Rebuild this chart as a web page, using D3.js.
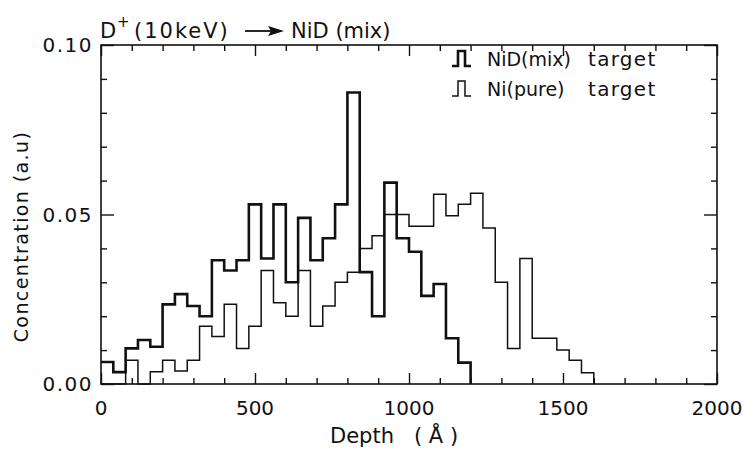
<!DOCTYPE html>
<html lang="en">
<head>
<meta charset="UTF-8">
<title>D+ (10keV) -> NiD (mix)</title>
<script src="https://d3js.org/d3.v7.min.js"></script>
<style>
  body { margin: 0; background: #fff; }
  text { font-family: "DejaVu Sans", sans-serif; fill: #111; }
</style>
</head>
<body>
<div id="grafico"></div>
<script>
// left edge of each 40 A depth bin
const depth = [0, 40, 80, 120, 160, 200, 240, 280, 320, 360,
               400, 440, 480, 520, 560, 600, 640, 680, 720, 760,
               800, 840, 880, 920, 960, 1000, 1040, 1080, 1120, 1160,
               1200, 1240, 1280, 1320, 1360, 1400, 1440, 1480, 1520, 1560];
const binWidth = 40;

// NiD (mix) target - thick line
const mixValues = [0.0065, 0.0035, 0.0105, 0.013, 0.011, 0.0235, 0.0265, 0.023, 0.020, 0.0365,
                   0.0335, 0.0365, 0.053, 0.037, 0.053, 0.030, 0.049, 0.0365, 0.043, 0.053,
                   0.086, 0.033, 0.020, 0.0594, 0.043, 0.039, 0.026, 0.0295, 0.0135, 0.0063];

// Ni (pure) target - thin line
const pureValues = [0, 0, 0.007, 0, 0.0036, 0.007, 0.0038, 0.007, 0.017, 0.014,
                    0.0235, 0.0105, 0.017, 0.0335, 0.024, 0.020, 0.0335, 0.017, 0.023, 0.030,
                    0.033, 0.040, 0.0437, 0.050, 0.050, 0.0465, 0.0465, 0.056, 0.0496, 0.053,
                    0.0563, 0.046, 0.030, 0.0105, 0.037, 0.0135, 0.0135, 0.010, 0.007, 0.0033];

const xTicks = [0, 500, 1000, 1500, 2000];
const xMinor = [100, 200, 300, 400, 600, 700, 800, 900, 1100, 1200, 1300, 1400, 1600, 1700, 1800, 1900];
const yTicks = [0, 0.05, 0.10];
const yMinor = [0.01, 0.02, 0.03, 0.04, 0.06, 0.07, 0.08, 0.09];

const width = 746, height = 450;
const margin = { top: 45, right: 29, bottom: 66, left: 101 };
const innerW = width - margin.left - margin.right;
const innerH = height - margin.top - margin.bottom;

const svg = d3.select("#grafico").append("svg")
    .attr("width", width)
    .attr("height", height);

const g = svg.append("g").attr("transform", `translate(${margin.left},${margin.top})`);

const x = d3.scaleLinear().domain([0, 2000]).range([0, innerW]);
const y = d3.scaleLinear().domain([0, 0.10]).range([innerH, 0]);

// frame
g.append("rect")
    .attr("width", innerW).attr("height", innerH)
    .attr("fill", "none").attr("stroke", "#111").attr("stroke-width", 1.6);

// inward ticks on all four sides
function ticks(axisFn, scale, vals, len, transform) {
    g.append("g")
        .attr("transform", transform)
        .call(axisFn(scale).tickValues(vals).tickSize(len).tickFormat(""))
        .call(s => s.select(".domain").remove())
        .call(s => s.selectAll("line").attr("stroke", "#111").attr("stroke-width", 1.4));
}
ticks(d3.axisTop, x, xTicks, 11, `translate(0,${innerH})`);
ticks(d3.axisTop, x, xMinor, 6, `translate(0,${innerH})`);
ticks(d3.axisBottom, x, xTicks, 11, "translate(0,0)");
ticks(d3.axisBottom, x, xMinor, 6, "translate(0,0)");
ticks(d3.axisRight, y, yTicks, 13, "translate(0,0)");
ticks(d3.axisRight, y, yMinor, 6, "translate(0,0)");
ticks(d3.axisLeft, y, yTicks, 13, `translate(${innerW},0)`);
ticks(d3.axisLeft, y, yMinor, 6, `translate(${innerW},0)`);

// tick labels
g.selectAll(".xlab").data(xTicks).enter().append("text")
    .attr("x", d => x(d)).attr("y", innerH + 31)
    .attr("text-anchor", "middle").attr("font-size", 20)
    .text(d => d);
g.selectAll(".ylab").data(yTicks).enter().append("text")
    .attr("x", -8).attr("y", d => y(d) + 7)
    .attr("text-anchor", "end").attr("font-size", 20)
    .attr("letter-spacing", 1.5)
    .text(d => d.toFixed(2));

// step histograms
function stepPoints(values) {
    const pts = values.map((v, i) => [depth[i], v]);
    pts.push([depth[values.length - 1] + binWidth, 0]);
    return pts;
}
const line = d3.line()
    .x(d => x(d[0])).y(d => y(d[1]))
    .curve(d3.curveStepAfter);

g.append("path").datum(stepPoints(pureValues))
    .attr("d", line).attr("fill", "none")
    .attr("stroke", "#111").attr("stroke-width", 1.5);
g.append("path").datum(stepPoints(mixValues))
    .attr("d", line).attr("fill", "none")
    .attr("stroke", "#111").attr("stroke-width", 2.6);

// legend
const legend = [
    { label: "NiD(mix)", sw: 2.6, ly: 66 },
    { label: "Ni(pure)", sw: 1.5, ly: 96 }
];
legend.forEach(l => {
    const p = d3.path();
    p.moveTo(452, l.ly); p.lineTo(458, l.ly); p.lineTo(458, l.ly - 15);
    p.lineTo(465, l.ly - 15); p.lineTo(465, l.ly); p.lineTo(471, l.ly);
    svg.append("path").attr("d", p.toString())
        .attr("fill", "none").attr("stroke", "#111").attr("stroke-width", l.sw);
    svg.append("text").attr("x", 487).attr("y", l.ly).attr("font-size", 19)
        .text(l.label);
    svg.append("text").attr("x", 588).attr("y", l.ly).attr("font-size", 20)
        .attr("letter-spacing", 1.3).text("target");
});

// title
svg.append("text").attr("x", 100).attr("y", 38).attr("font-size", 21).text("D");
svg.append("text").attr("x", 117).attr("y", 27).attr("font-size", 15).text("+");
svg.append("text").attr("x", 134).attr("y", 38).attr("font-size", 21)
    .attr("letter-spacing", 2).text("(10keV)");
svg.append("line").attr("x1", 245).attr("x2", 276).attr("y1", 31).attr("y2", 31)
    .attr("stroke", "#111").attr("stroke-width", 1.8);
svg.append("path").attr("d", "M268,26 L284,31 L268,36 L271,31 Z").attr("fill", "#111");
svg.append("text").attr("x", 291).attr("y", 38).attr("font-size", 21)
    .text("NiD (mix)");

// axis titles
svg.append("text")
    .attr("transform", `translate(28,${margin.top + innerH / 2 + 22}) rotate(-90)`)
    .attr("text-anchor", "middle").attr("font-size", 19)
    .attr("letter-spacing", 1.4)
    .text("Concentration (a.u)");
svg.append("text")
    .attr("x", 330).attr("y", 443).attr("font-size", 21)
    .text("Depth");
svg.append("text")
    .attr("x", 414).attr("y", 443).attr("font-size", 21)
    .attr("xml:space", "preserve")
    .text("( Å )");
</script>
</body>
</html>
